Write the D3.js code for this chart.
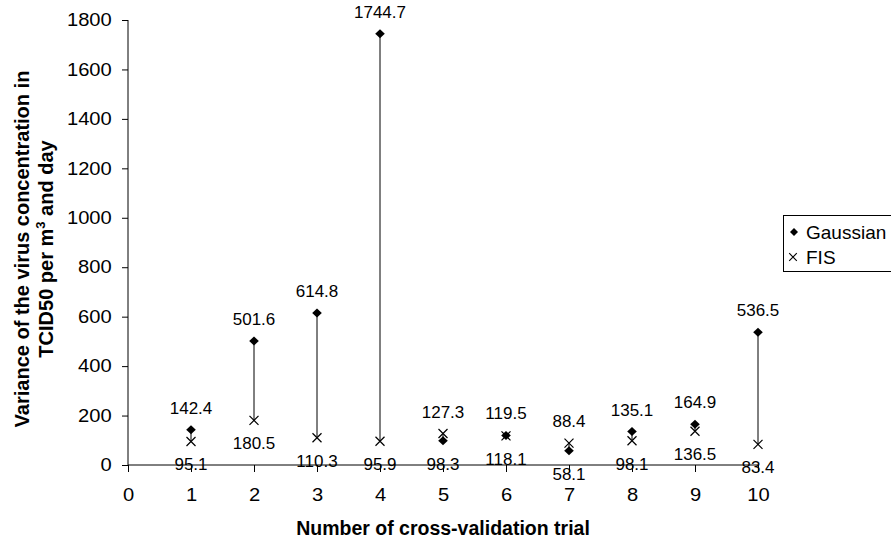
<!DOCTYPE html>
<html><head><meta charset="utf-8">
<script src="https://cdn.jsdelivr.net/npm/d3@7"></script>
<style>body{margin:0;background:#fff;} text{font-family:"Liberation Sans",Arial,sans-serif;}</style>
</head><body>
<svg id="c" width="891" height="542"></svg>
<script>
const trials = [1,2,3,4,5,6,7,8,9,10];
const gaussian = [142.4,501.6,614.8,1744.7,98.3,119.5,58.1,135.1,164.9,536.5];
const fis = [95.1,180.5,110.3,95.9,127.3,118.1,88.4,98.1,136.5,83.4];
const xTicks = [0,1,2,3,4,5,6,7,8,9,10];
const yTicks = [0,200,400,600,800,1000,1200,1400,1600,1800];
const seriesNames = ["Gaussian","FIS"];

const svg = d3.select("#c");
const x = d3.scaleLinear().domain([0,10]).range([128,758]);
const y = d3.scaleLinear().domain([0,1800]).range([465,20]);
const SX = 1.12;

// y axis
const yAx = svg.append("g").attr("transform","translate(128,0)")
  .call(d3.axisLeft(y).tickValues(yTicks).tickSize(6).tickPadding(8.5).tickFormat(d3.format("d")));
yAx.selectAll("text").attr("font-size",18).attr("fill","#000").attr("transform",`scale(${SX},1)`);
yAx.selectAll("line,path").attr("stroke","#000");
yAx.select(".domain").attr("d","M0,20V465");

// x axis
const xAx = svg.append("g").attr("transform","translate(0,465)")
  .call(d3.axisBottom(x).tickValues(xTicks).tickSize(7).tickPadding(16.5).tickFormat(d3.format("d")));
xAx.selectAll("text").attr("font-size",18).attr("fill","#000").attr("transform",`scale(${SX},1)`);
xAx.selectAll("line,path").attr("stroke","#000");
xAx.select(".domain").attr("d","M128,0H758");

// high-low lines
const g = svg.append("g");
trials.forEach((t,i)=>{
  g.append("line").attr("x1",x(t)).attr("x2",x(t))
    .attr("y1",y(gaussian[i])).attr("y2",y(fis[i]))
    .attr("stroke","#000").attr("stroke-width",1);
});
// FIS markers (x)
const crossPath = s => `M${-s},${-s}L${s},${s}M${-s},${s}L${s},${-s}`;
trials.forEach((t,i)=>{
  g.append("path").attr("transform",`translate(${x(t)},${y(fis[i])})`)
    .attr("d",crossPath(4.5)).attr("stroke","#000").attr("stroke-width",1.2).attr("fill","none");
});
// Gaussian markers (diamond)
trials.forEach((t,i)=>{
  g.append("path").attr("transform",`translate(${x(t)},${y(gaussian[i])})`)
    .attr("d","M0,-4.5L4.8,0L0,4.5L-4.8,0Z").attr("fill","#000");
});
// labels
const fmt = d3.format(".1f");
trials.forEach((t,i)=>{
  const hi = Math.max(gaussian[i],fis[i]), lo = Math.min(gaussian[i],fis[i]);
  g.append("text").attr("x",x(t)).attr("y",y(hi)-16).attr("text-anchor","middle")
    .attr("font-size",17).text(fmt(hi));
  g.append("text").attr("x",x(t)).attr("y",y(lo)+29).attr("text-anchor","middle")
    .attr("font-size",17).text(fmt(lo));
});

// axis titles
svg.append("text").attr("x",443).attr("y",535).attr("text-anchor","middle")
  .attr("font-size",19.5).attr("font-weight","bold").text("Number of cross-validation trial");
const yt = svg.append("text").attr("transform","translate(0,249) rotate(-90)")
  .attr("text-anchor","middle").attr("font-size",20).attr("font-weight","bold");
yt.append("tspan").attr("x",0).attr("y",29).text("Variance of the virus concentration in");
const l2 = yt.append("tspan").attr("x",0).attr("y",53);
l2.append("tspan").text("TCID50 per m");
l2.append("tspan").attr("dy",-8).attr("font-size",13).text("3");
l2.append("tspan").attr("dy",8).text(" and day");

// legend
const lg = svg.append("g");
lg.append("rect").attr("x",783.5).attr("y",215.5).attr("width",130).attr("height",56)
  .attr("fill","#fff").attr("stroke","#000").attr("stroke-width",1);
lg.append("path").attr("transform","translate(794,232)").attr("d","M0,-4L4,0L0,4L-4,0Z").attr("fill","#000");
lg.append("text").attr("x",806).attr("y",239).attr("font-size",19).text(seriesNames[0]);
lg.append("path").attr("transform","translate(793,257)").attr("d",crossPath(3.8)).attr("stroke","#000").attr("stroke-width",1.1);
lg.append("text").attr("x",806).attr("y",264).attr("font-size",19).text(seriesNames[1]);
</script>
</body></html>
